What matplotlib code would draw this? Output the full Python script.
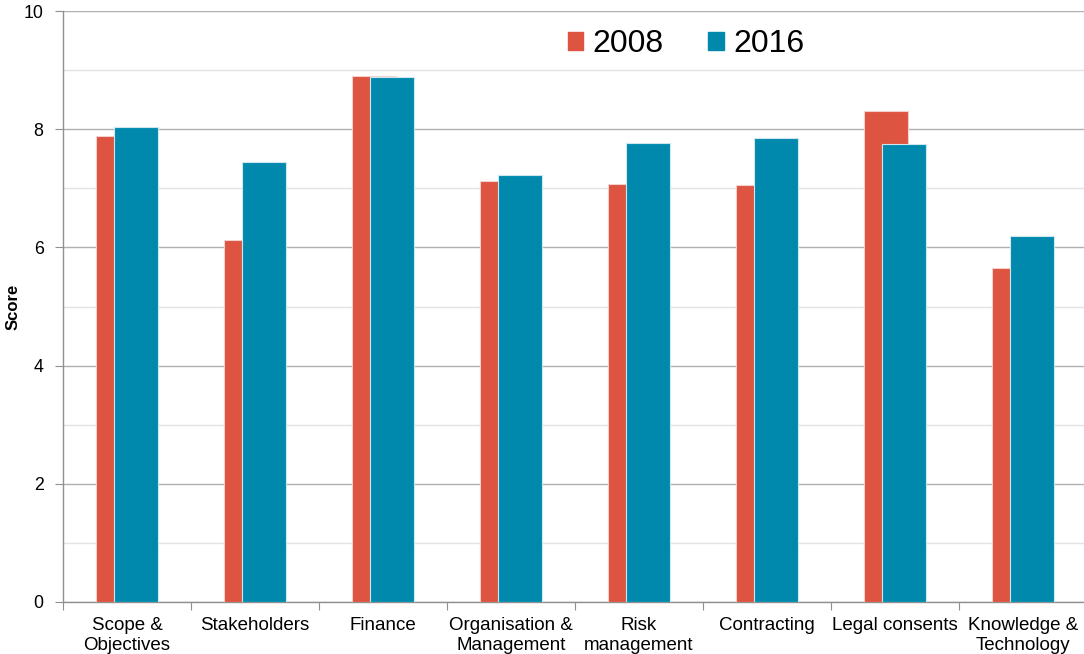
import matplotlib
matplotlib.use("Agg")
import matplotlib.pyplot as plt
import numpy as np
from matplotlib.patches import Rectangle

plt.rcParams['font.family'] = ['Liberation Sans', 'DejaVu Sans']

categories = ["Scope &\nObjectives", "Stakeholders", "Finance", "Organisation &\nManagement",
              "Risk\nmanagement", "Contracting", "Legal consents", "Knowledge &\nTechnology"]
scores_2008 = [7.89, 6.12, 8.90, 7.12, 7.07, 7.06, 8.30, 5.65]
scores_2016 = [8.03, 7.44, 8.88, 7.22, 7.77, 7.85, 7.75, 6.19]
series_names = ["2008", "2016"]
yticks_major = [0, 2, 4, 6, 8, 10]

red = "#DD5441"
blue = "#0089AD"

fig = plt.figure(figsize=(10.84, 6.54), dpi=100)
W, H = 1084, 654
ax = fig.add_axes([63 / W, 1 - 602 / H, 1024 / W, 591 / H])

x = np.arange(len(categories))
bw = 0.344
off = 0.074
ax.bar(x - off, scores_2008, width=bw, color=red, edgecolor="#f2d0cb", linewidth=0.8, zorder=3)
ax.bar(x + off, scores_2016, width=bw, color=blue, edgecolor="#cfe6ee", linewidth=0.8, zorder=4)

ax.set_xlim(-0.5, len(categories) - 0.5)
ax.set_ylim(0, 10)
ax.set_yticks(yticks_major)
ax.set_yticklabels([str(v) for v in yticks_major], fontsize=12.8)
ax.set_yticks([1, 3, 5, 7, 9], minor=True)
ax.yaxis.grid(True, which="major", color="#b0b0b0", linewidth=1.0, zorder=0)
ax.yaxis.grid(True, which="minor", color="#e3e3e3", linewidth=1.0, zorder=0)
ax.tick_params(axis="y", which="major", length=6, color="#909090", pad=8)
ax.tick_params(axis="y", which="minor", length=0)

ax.set_xticks(np.arange(-0.5, len(categories) - 0.5, 1.0))
ax.set_xticklabels([])
ax.tick_params(axis="x", which="major", length=6, color="#909090")
ax.set_xticks(x, minor=True)
ax.set_xticklabels(categories, minor=True, fontsize=13.5, linespacing=1.2)
ax.tick_params(axis="x", which="minor", length=0, pad=11)

for s in ["top", "right"]:
    ax.spines[s].set_visible(False)
ax.spines["left"].set_color("#909090")
ax.spines["bottom"].set_color("#909090")
ax.spines["left"].set_linewidth(1.0)
ax.spines["bottom"].set_linewidth(1.0)
ax.set_axisbelow(True)

fig.text(13 / W, 1 - 307 / H, "Score", rotation=90, fontsize=12, fontweight="bold",
         ha="center", va="center")

handles = [Rectangle((0, 0), 1, 1, color=red), Rectangle((0, 0), 1, 1, color=blue)]
leg = fig.legend(handles, series_names, loc="center", bbox_to_anchor=(686 / W, 1 - 44 / H),
                 ncol=2, frameon=False, fontsize=23, handlelength=0.48, handleheight=0.48,
                 handletextpad=0.3, columnspacing=1.4)

fig.savefig("out.png", dpi=100)
